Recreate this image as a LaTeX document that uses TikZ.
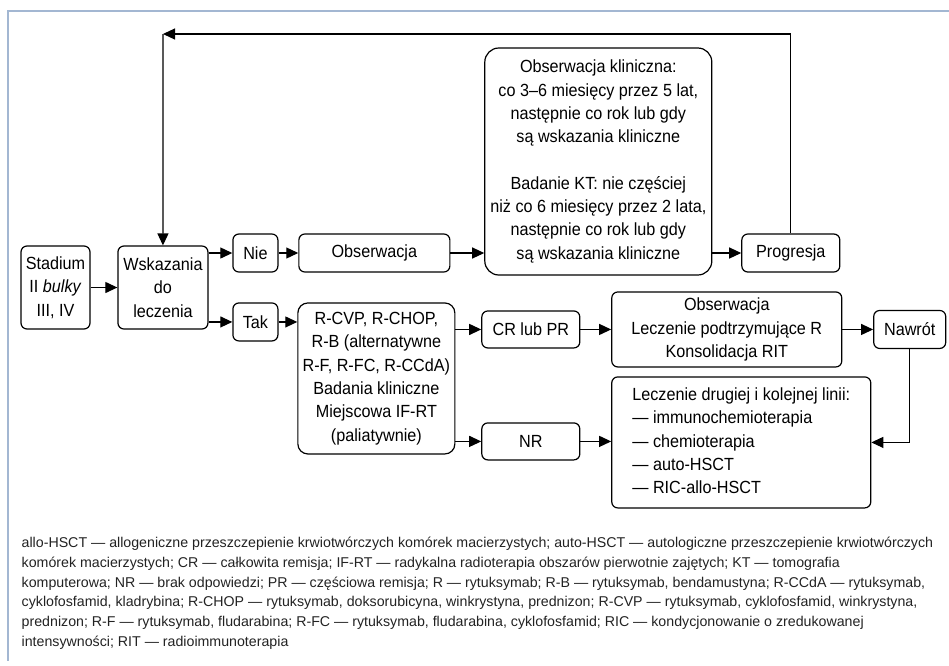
\documentclass[tikz,border=0pt]{standalone}
\usepackage{fontspec}
\setmainfont{Liberation Sans}[FakeStretch=0.92]
\newfontfamily\legendfont{Liberation Sans}
\usetikzlibrary{arrows.meta}

\definecolor{frameblue}{HTML}{A3B7D2}
\definecolor{legendgray}{HTML}{222222}

\tikzset{
  box/.style={rectangle, draw, rounded corners=6pt, line width=1.2pt, align=center, inner sep=2pt,
    font=\fontsize{17.6}{23.3}\selectfont},
  link/.style={-{Triangle[length=12pt,width=11pt]}, line width=1.2pt},
  ramka/.style={draw=frameblue, line width=2pt}
}

\begin{document}
\begin{tikzpicture}[x=1pt, y=-1pt]
  \useasboundingbox (0,0) rectangle (949,665);
  \draw[ramka] (949,11) -- (8,11) -- (8,661);

  \node (stadium) [box, minimum width=69pt, minimum height=83pt] at (55.5,287.5) {Stadium\\II \textit{bulky}\\III, IV};
  \node (wskazania) [box, minimum width=90pt, minimum height=83pt, right of=stadium, xshift=79pt] {Wskazania\\do\\leczenia};
  \node (nie) [box, minimum width=45pt, minimum height=38pt, right of=wskazania, xshift=64pt, yshift=34.5pt] {Nie};
  \node (tak) [box, minimum width=45pt, minimum height=38pt, below of=nie, yshift=-40.5pt] {Tak};
  \node (obserwacja) [box, minimum width=151pt, minimum height=38pt, right of=nie, xshift=90.5pt] {Obserwacja};
  \node (leki) [box, rounded corners=10pt, minimum width=157pt, minimum height=151pt, right of=tak, xshift=92.5pt, yshift=-56.5pt]
    {R-CVP, R-CHOP,\\R-B (alternatywne\\R-F, R-FC, R-CCdA)\\Badania kliniczne\\Miejscowa IF-RT\\(paliatywnie)};
  \node (kontrola) [box, rounded corners=14pt, minimum width=227pt, minimum height=227pt, right of=obserwacja, xshift=195.5pt, yshift=91.5pt]
    {Obserwacja kliniczna:\\co 3–6 miesięcy przez 5 lat,\\następnie co rok lub gdy\\są wskazania kliniczne\\[23.3pt]
     Badanie KT: nie częściej\\niż co 6 miesięcy przez 2 lata,\\następnie co rok lub gdy\\są wskazania kliniczne};
  \node (progresja) [box, minimum width=98pt, minimum height=38pt, right of=obserwacja, xshift=388pt] {Progresja};
  \node (cr) [box, minimum width=98pt, minimum height=37pt, right of=leki, xshift=126pt, yshift=49pt] {CR lub PR};
  \node (podtrzymanie) [box, minimum width=230pt, minimum height=75pt, right of=cr, xshift=167.5pt]
    {Obserwacja\\Leczenie podtrzymujące R\\Konsolidacja RIT};
  \node (nawrot) [box, minimum width=72pt, minimum height=38pt, right of=podtrzymanie, xshift=154.5pt] {Nawrót};
  \node (nr) [box, minimum width=98pt, minimum height=37pt, below of=cr, yshift=-83.5pt] {NR};
  \node (druga) [box, minimum width=259pt, minimum height=131pt, right of=nr, xshift=182pt, yshift=-1pt]
    {\begin{tabular}{@{}l@{}}Leczenie drugiej i kolejnej linii:\\— immunochemioterapia\\— chemioterapia\\— auto-HSCT\\— RIC-allo-HSCT\end{tabular}};
  \coordinate (zwrot) at (163,34);

  \draw[link] (stadium) -- (wskazania);
  \draw[link] (wskazania.east |- nie) -- (nie);
  \draw[link] (wskazania.east |- tak) -- (tak);
  \draw[link] (nie) -- (obserwacja);
  \draw[link] (tak) -- (tak -| leki.west);
  \draw[link] (obserwacja) -- (obserwacja -| kontrola.west);
  \draw[link] (kontrola.east |- progresja) -- (progresja);
  \draw[link] (progresja.north) |- (zwrot);
  \draw[link] (zwrot) -- (wskazania.north);
  \draw[link] (leki.east |- cr) -- (cr);
  \draw[link] (leki.east |- nr) -- (nr);
  \draw[link] (cr) -- (podtrzymanie);
  \draw[link] (podtrzymanie) -- (nawrot);
  \draw[link] (nr) -- (nr -| druga.west);
  \draw[link] (nawrot.south) |- (druga.east);

  % legenda
  \node (legenda) [anchor=north west, align=left, inner sep=0pt, text=legendgray,
    font=\legendfont\fontsize{14.2}{19.7}\selectfont] at (21.5,537) {%
    allo-HSCT — allogeniczne przeszczepienie krwiotwórczych komórek macierzystych; auto-HSCT — autologiczne przeszczepienie krwiotwórczych\\
    komórek macierzystych; CR — całkowita remisja; IF-RT — radykalna radioterapia obszarów pierwotnie zajętych; KT — tomografia\\
    komputerowa; NR — brak odpowiedzi; PR — częściowa remisja; R — rytuksymab; R-B — rytuksymab, bendamustyna; R-CCdA — rytuksymab,\\
    cyklofosfamid, kladrybina; R-CHOP — rytuksymab, doksorubicyna, winkrystyna, prednizon; R-CVP — rytuksymab, cyklofosfamid, winkrystyna,\\
    prednizon; R-F — rytuksymab, fludarabina; R-FC — rytuksymab, fludarabina, cyklofosfamid; RIC — kondycjonowanie o zredukowanej\\
    intensywności; RIT — radioimmunoterapia};
\end{tikzpicture}
\end{document}
